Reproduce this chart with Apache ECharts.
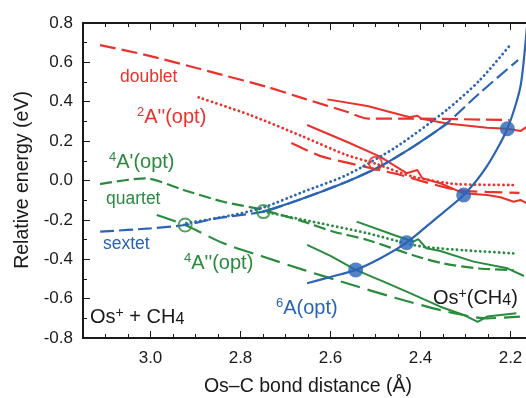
<!DOCTYPE html>
<html><head><meta charset="utf-8">
<script src="https://cdn.jsdelivr.net/npm/echarts@6/dist/echarts.min.js"></script>
<style>html,body{margin:0;padding:0;background:#fff}#wrap{position:relative;width:526px;height:398px}#c,#f{position:absolute;left:0;top:0;width:526px;height:398px}#f{pointer-events:none}</style>
</head><body><div id="wrap"><div id="c"></div><div id="f"></div></div>
<script>
// ---- data: [Os–C distance (Å), relative energy (eV)] ----
const doubletDashed   = [[3.112,0.688],[3.0,0.632],[2.853,0.544],[2.742,0.476],[2.66,0.417],[2.564,0.349],[2.515,0.314],[2.416,0.314],[2.202,0.307]];
const doubletSolidUp  = [[2.607,0.412],[2.518,0.378],[2.424,0.321],[2.407,0.329],[2.398,0.314],[2.341,0.290],[2.252,0.268],[2.207,0.263],[2.178,0.251],[2.164,0.273]];
const doubletDotted   = [[2.893,0.422],[2.778,0.332],[2.66,0.222],[2.564,0.129],[2.502,0.087],[2.416,0.019],[2.32,-0.018],[2.194,-0.023]];
const doubletSolidLow = [[2.652,0.282],[2.564,0.197],[2.49,0.121],[2.431,0.037],[2.407,0.053],[2.396,0.011],[2.356,-0.014],[2.304,-0.065],[2.252,-0.074],[2.222,-0.085],[2.193,-0.108],[2.178,-0.099],[2.164,-0.116]];
const doubletDashLow  = [[2.687,0.190],[2.622,0.124],[2.556,0.087],[2.444,0.028],[2.393,-0.006],[2.32,-0.048],[2.253,-0.058],[2.18,-0.063]];

const sextetDashed = [[3.112,-0.260],[3.0,-0.243],[2.923,-0.226],[2.853,-0.192],[2.749,-0.158],[2.66,-0.09],[2.564,-0.006],[2.491,0.07],[2.416,0.172],[2.342,0.29],[2.269,0.443],[2.183,0.612]];
const sextetSolid  = [[2.749,-0.158],[2.66,-0.09],[2.564,-0.006],[2.491,0.07],[2.416,0.172],[2.34,0.29]];
const sextetDotted = [[2.92,-0.217],[2.822,-0.178],[2.749,-0.137],[2.66,-0.057],[2.564,0.028],[2.453,0.172],[2.342,0.358],[2.268,0.51],[2.198,0.696]];
const sextetOpt    = [[2.652,-0.522],[2.6,-0.49],[2.544,-0.454],[2.489,-0.395],[2.431,-0.316],[2.37,-0.201],[2.304,-0.074],[2.253,0.07],[2.207,0.263],[2.178,0.476],[2.164,0.764],[2.161,0.85]];

const quartetDashed   = [[3.112,-0.018],[3.012,0.011],[2.927,-0.048],[2.838,-0.108],[2.749,-0.15],[2.66,-0.209],[2.593,-0.26],[2.518,-0.302],[2.416,-0.38],[2.348,-0.422],[2.27,-0.447],[2.193,-0.455]];
const quartetDotted   = [[2.749,-0.158],[2.66,-0.2],[2.518,-0.268],[2.422,-0.325],[2.385,-0.339],[2.30,-0.355],[2.193,-0.37]];
const quartetSolidUp  = [[2.542,-0.209],[2.459,-0.277],[2.416,-0.311],[2.405,-0.298],[2.387,-0.344],[2.356,-0.358],[2.282,-0.412],[2.207,-0.446],[2.17,-0.485]];
const quartetLongDash = [[2.986,-0.175],[2.923,-0.226],[2.838,-0.319],[2.749,-0.387],[2.66,-0.454],[2.564,-0.522],[2.453,-0.598],[2.342,-0.666],[2.253,-0.70],[2.179,-0.691]];
const quartetSolidLow = [[2.652,-0.327],[2.6,-0.383],[2.544,-0.454],[2.482,-0.514],[2.422,-0.573],[2.356,-0.641],[2.304,-0.683],[2.273,-0.718],[2.252,-0.691],[2.187,-0.674]];

const redOpen    = [[2.5,0.087]];
const greenOpen  = [[2.923,-0.226],[2.749,-0.158]];
const blueFilled = [[2.544,-0.454],[2.431,-0.316],[2.304,-0.074],[2.207,0.263]];

const xMajorLabels = ['2.2','2.4','2.6','2.8','3.0'];

// ---- styling ----
const RED = '#e8322b', GREEN = '#2a8a3e', BLUE = '#2b64b5', INK = '#1a1a1a';
const FONT = '"Liberation Sans", Arial, Helvetica, sans-serif';
const DOT = [0.1, 4.6];
const X_MIN = 2.0, X_MAX = 3.15, Y_MIN = -0.8, Y_MAX = 0.8;
const gridBox = {left: 83, top: 23, bottom: 60, right: -74.5, containLabel: false, outerBoundsMode: 'none'};

function line(data, color, type, width, smooth, cap) {
  return {type: 'line', data: data, symbol: 'none', smooth: smooth ? 0.25 : false, silent: true, z: 2,
    lineStyle: {color: color, width: width, type: type, cap: cap || 'butt'}};
}
function rt(x, y, text, color) {
  return {type: 'text', x: x, y: y, silent: true, z: 10,
    style: {text: text, fill: color, align: 'left', verticalAlign: 'middle', fontFamily: FONT, fontSize: 20, rich: {
      m: {fontSize: 20, lineHeight: 22, fontFamily: FONT, fill: color},
      s: {fontSize: 13, lineHeight: 13, verticalAlign: 'top', fontFamily: FONT, fill: color},
      p: {fontSize: 14, lineHeight: 13, verticalAlign: 'top', fontFamily: FONT, fill: color},
      b: {fontSize: 16, lineHeight: 16, verticalAlign: 'bottom', fontFamily: FONT, fill: color},
      w: {fontSize: 17.5, lineHeight: 20, fontFamily: FONT, fill: color}}}};
}

// ---- layer 1: curves, markers and annotations ----
const chart = echarts.init(document.getElementById('c'), null, {renderer: 'canvas'});
chart.setOption({
  animation: false,
  backgroundColor: '#ffffff',
  grid: Object.assign({show: true, borderColor: INK, borderWidth: 2, backgroundColor: 'transparent'}, gridBox),
  xAxis: {type: 'value', min: X_MIN, max: X_MAX, inverse: true, show: false, splitLine: {show: false}},
  yAxis: {type: 'value', min: Y_MIN, max: Y_MAX, show: false, splitLine: {show: false}},
  series: [
    line(doubletDashed, RED, [16, 6], 2.2, true),
    line(doubletSolidUp, RED, 'solid', 2, false),
    line(doubletDotted, RED, DOT, 2.8, true, 'round'),
    line(doubletSolidLow, RED, 'solid', 2, false),
    line(doubletDashLow, RED, [18, 7], 2.2, true),
    line(quartetDashed, GREEN, [12, 5], 2.2, true),
    line(quartetDotted, GREEN, DOT, 2.8, true, 'round'),
    line(quartetSolidUp, GREEN, 'solid', 2, false),
    line(quartetLongDash, GREEN, [20, 8], 2.2, true),
    line(quartetSolidLow, GREEN, 'solid', 2, false),
    line(sextetDashed, BLUE, [14, 5], 2.2, true),
    line(sextetSolid, BLUE, 'solid', 2.2, true),
    line(sextetDotted, BLUE, DOT, 2.8, true, 'round'),
    line(sextetOpt, BLUE, 'solid', 2.2, true),
    {type: 'scatter', data: redOpen, symbol: 'circle', symbolSize: 13, z: 5, silent: true,
      itemStyle: {color: 'rgba(255,255,255,0)', borderColor: RED, borderWidth: 2}},
    {type: 'scatter', data: greenOpen, symbol: 'circle', symbolSize: 13, z: 5, silent: true,
      itemStyle: {color: 'rgba(255,255,255,0)', borderColor: GREEN, borderWidth: 2}},
    {type: 'scatter', data: blueFilled, symbol: 'circle', symbolSize: 15, z: 6, silent: true,
      itemStyle: {color: BLUE}}
  ],
  graphic: [
    {type: 'text', x: 23, y: 180, rotation: Math.PI / 2, silent: true,
      style: {text: 'Relative energy (eV)', fill: INK, fontSize: 19.5, fontFamily: FONT, align: 'center', verticalAlign: 'middle'}},
    {type: 'text', x: 308, y: 387, silent: true,
      style: {text: 'Os\u2013C bond distance (\u00C5)', fill: INK, fontSize: 19.5, fontFamily: FONT, align: 'center', verticalAlign: 'middle'}},
    rt(120, 77, '{w|doublet}', RED),
    rt(137, 117, "{s|2}{m|A''(opt)}", RED),
    rt(109, 162, "{s|4}{m|A'(opt)}", GREEN),
    rt(106, 199, '{w|quartet}', GREEN),
    rt(103, 244, '{w|sextet}', BLUE),
    rt(184, 263, "{s|4}{m|A''(opt)}", GREEN),
    rt(276, 308, '{s|6}{m|A(opt)}', BLUE),
    rt(90, 317, '{m|Os}{p|+}{m| + CH}{b|4}', INK),
    rt(433, 298, '{m|Os}{p|+}{m|(CH}{b|4}{m|)}', INK)
  ]
});

// ---- layer 2: axes frame (same grid and scales); lines/ticks kept apart from the y labels ----
function xAx(grid, pos, interval, len, labels, axisLine) {
  return {type: 'value', gridIndex: grid, position: pos, min: X_MIN, max: X_MAX, interval: interval, inverse: true,
    axisLine: {show: axisLine, onZero: false, lineStyle: {color: INK, width: 2}},
    axisTick: {show: true, inside: true, length: len},
    splitLine: {show: false},
    axisLabel: labels ? {show: true, interval: 0, margin: 12, color: INK, fontSize: 17, fontFamily: FONT,
      formatter: function (v) { const s = v.toFixed(1); return (Math.abs(v - parseFloat(s)) < 1e-6 && xMajorLabels.indexOf(s) >= 0) ? s : ''; }}
      : {show: false}};
}
const frame = echarts.init(document.getElementById('f'), null, {renderer: 'canvas'});
frame.setOption({
  animation: false,
  grid: [Object.assign({}, gridBox), Object.assign({}, gridBox)],
  xAxis: [xAx(0, 'bottom', 0.2, 7, true, true), xAx(0, 'top', 0.2, 7, false, true),
          xAx(1, 'bottom', 0.05, 4, false, false), xAx(1, 'top', 0.05, 4, false, false)],
  yAxis: [{type: 'value', gridIndex: 0, min: Y_MIN, max: Y_MAX, interval: 0.2, position: 'left',
      axisLine: {show: true, onZero: false, lineStyle: {color: INK, width: 2}},
      axisTick: {show: true, inside: true, length: 7},
      minorTick: {show: true, splitNumber: 2, length: 4},
      splitLine: {show: false}, axisLabel: {show: false}},
    {type: 'value', gridIndex: 1, min: Y_MIN, max: Y_MAX, interval: 0.2, position: 'left',
      axisLine: {show: false, onZero: false}, axisTick: {show: false}, splitLine: {show: false},
      axisLabel: {margin: 10, color: INK, fontSize: 17, fontFamily: FONT, formatter: function (v) { return v.toFixed(1); }}}],
  series: [{type: 'line', data: [], xAxisIndex: 0, yAxisIndex: 0}]
});
</script>
</body></html>
